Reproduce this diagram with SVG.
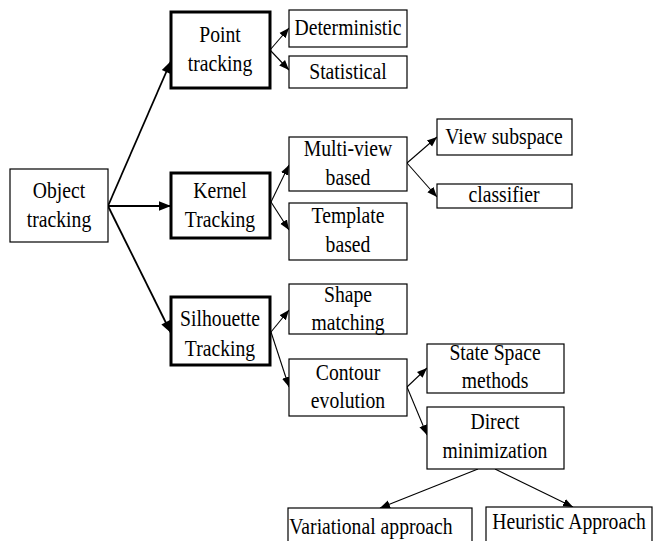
<svg xmlns="http://www.w3.org/2000/svg" width="655" height="541" viewBox="0 0 655 541">
  <style>
    .box { fill: #fff; stroke: #000; stroke-width: 1.2; }
    .bold { fill: #fff; stroke: #000; stroke-width: 3; }
    .lbl { font-family: 'Liberation Serif', 'Times New Roman', serif; font-size: 24px; fill: #000; text-anchor: middle; }
    .edge { stroke: #000; fill: none; }
    .main { stroke-width: 1.8; }
    .sub { stroke-width: 1.1; }
  </style>
  <defs>
    <marker id="ah" viewBox="0 0 10 10" refX="10" refY="5" markerWidth="10" markerHeight="10" markerUnits="userSpaceOnUse" orient="auto">
      <path d="M0,1 L10,5 L0,9 Z" fill="#000"/>
    </marker>
    <marker id="ahBig" viewBox="0 0 10 10" refX="10" refY="5" markerWidth="13" markerHeight="12" markerUnits="userSpaceOnUse" orient="auto">
      <path d="M0,1 L10,5 L0,9 Z" fill="#000"/>
    </marker>
  </defs>

  <g id="connectors">
    <path class="edge main" d="M108,206 L171,61" marker-end="url(#ahBig)"/>
    <path class="edge main" d="M108,206 L171,206" marker-end="url(#ahBig)"/>
    <path class="edge main" d="M108,206 L171,333" marker-end="url(#ahBig)"/>
    <path class="edge sub" d="M270,50 L289,28" marker-end="url(#ah)"/>
    <path class="edge sub" d="M270,50 L289,70" marker-end="url(#ah)"/>
    <path class="edge sub" d="M271,202 L289,165" marker-end="url(#ah)"/>
    <path class="edge sub" d="M271,202 L289,230" marker-end="url(#ah)"/>
    <path class="edge sub" d="M407,163 L437,137" marker-end="url(#ah)"/>
    <path class="edge sub" d="M407,163 L437,197" marker-end="url(#ah)"/>
    <path class="edge sub" d="M271,332 L289,310" marker-end="url(#ah)"/>
    <path class="edge sub" d="M271,332 L289,387" marker-end="url(#ah)"/>
    <path class="edge sub" d="M407,387 L427,368" marker-end="url(#ah)"/>
    <path class="edge sub" d="M407,387 L427,435" marker-end="url(#ah)"/>
    <path class="edge sub" d="M478,469 L380,508" marker-end="url(#ah)"/>
    <path class="edge sub" d="M495,469 L573,507" marker-end="url(#ah)"/>
  </g>

  <!-- labels use a horizontally condensed serif: translate to the anchor, then squeeze x -->
  <g id="object-tracking">
    <rect class="box" x="10" y="169" width="98" height="73"/>
    <text class="lbl" transform="translate(59,198) scale(0.82,1)">Object</text>
    <text class="lbl" transform="translate(59,227) scale(0.82,1)">tracking</text>
  </g>

  <g id="point-tracking">
    <rect class="bold" x="171" y="12" width="99" height="76"/>
    <text class="lbl" transform="translate(220,42) scale(0.82,1)">Point</text>
    <text class="lbl" transform="translate(220,71) scale(0.82,1)">tracking</text>
  </g>
  <g id="deterministic">
    <rect class="box" x="289" y="10" width="118" height="37"/>
    <text class="lbl" transform="translate(348,35) scale(0.82,1)">Deterministic</text>
  </g>
  <g id="statistical">
    <rect class="box" x="289" y="56" width="118" height="32"/>
    <text class="lbl" transform="translate(348,79) scale(0.82,1)">Statistical</text>
  </g>

  <g id="kernel-tracking">
    <rect class="bold" x="171" y="173" width="99" height="65"/>
    <text class="lbl" transform="translate(220,198) scale(0.82,1)">Kernel</text>
    <text class="lbl" transform="translate(220,227) scale(0.82,1)">Tracking</text>
  </g>
  <g id="multi-view">
    <rect class="box" x="289" y="137" width="118" height="54"/>
    <text class="lbl" transform="translate(348,156) scale(0.82,1)">Multi-view</text>
    <text class="lbl" transform="translate(348,185) scale(0.82,1)">based</text>
  </g>
  <g id="template">
    <rect class="box" x="289" y="203" width="118" height="57"/>
    <text class="lbl" transform="translate(348,223) scale(0.82,1)">Template</text>
    <text class="lbl" transform="translate(348,252) scale(0.82,1)">based</text>
  </g>
  <g id="view-subspace">
    <rect class="box" x="437" y="119" width="135" height="36"/>
    <text class="lbl" transform="translate(504,144) scale(0.82,1)">View subspace</text>
  </g>
  <g id="classifier">
    <rect class="box" x="437" y="184" width="135" height="24"/>
    <text class="lbl" transform="translate(504,202) scale(0.82,1)">classifier</text>
  </g>

  <g id="silhouette-tracking">
    <rect class="bold" x="171" y="297" width="99" height="68"/>
    <text class="lbl" transform="translate(220,326) scale(0.82,1)">Silhouette</text>
    <text class="lbl" transform="translate(220,356) scale(0.82,1)">Tracking</text>
  </g>
  <g id="shape-matching">
    <rect class="box" x="289" y="284" width="118" height="50"/>
    <text class="lbl" transform="translate(348,302) scale(0.82,1)">Shape</text>
    <text class="lbl" transform="translate(348,330) scale(0.82,1)">matching</text>
  </g>
  <g id="contour-evolution">
    <rect class="box" x="289" y="359" width="118" height="57"/>
    <text class="lbl" transform="translate(348,380) scale(0.82,1)">Contour</text>
    <text class="lbl" transform="translate(348,408) scale(0.82,1)">evolution</text>
  </g>
  <g id="state-space">
    <rect class="box" x="427" y="344" width="137" height="49"/>
    <text class="lbl" transform="translate(495,360) scale(0.82,1)">State Space</text>
    <text class="lbl" transform="translate(495,388) scale(0.82,1)">methods</text>
  </g>
  <g id="direct-minimization">
    <rect class="box" x="427" y="407" width="137" height="62"/>
    <text class="lbl" transform="translate(495,429) scale(0.82,1)">Direct</text>
    <text class="lbl" transform="translate(495,458) scale(0.82,1)">minimization</text>
  </g>
  <g id="variational">
    <rect class="box" x="288" y="508" width="184" height="40"/>
    <text class="lbl" transform="translate(371,534) scale(0.82,1)">Variational approach</text>
  </g>
  <g id="heuristic">
    <rect class="box" x="486" y="507" width="166" height="40"/>
    <text class="lbl" transform="translate(569,529) scale(0.82,1)">Heuristic Approach</text>
  </g>
</svg>
